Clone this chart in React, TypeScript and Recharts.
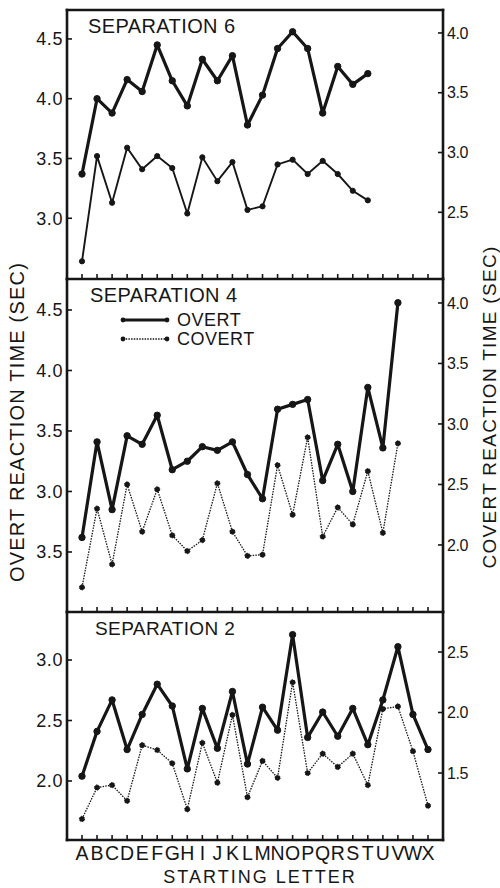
import React from 'react';
import { LineChart, Line, XAxis, YAxis, Legend } from 'recharts';

const letters = ['A','B','C','D','E','F','G','H','I','J','K','L','M','N','O','P','Q','R','S','T','U','V','W','X'];

// Separation 6 (A–T)
const sep6Overt = [3.37, 4.00, 3.88, 4.16, 4.06, 4.45, 4.15, 3.94, 4.33, 4.15, 4.36, 3.78, 4.03, 4.42, 4.56, 4.42, 3.88, 4.27, 4.12, 4.21];
const sep6Covert = [2.09, 2.97, 2.58, 3.04, 2.86, 2.97, 2.87, 2.49, 2.96, 2.76, 2.92, 2.52, 2.55, 2.90, 2.94, 2.82, 2.93, 2.82, 2.68, 2.60];
// Separation 4 (A–V)
const sep4Overt = [2.62, 3.41, 2.85, 3.46, 3.39, 3.63, 3.18, 3.25, 3.37, 3.34, 3.41, 3.14, 2.94, 3.68, 3.72, 3.76, 3.09, 3.39, 3.00, 3.86, 3.36, 4.56];
const sep4Covert = [1.65, 2.30, 1.84, 2.50, 2.11, 2.46, 2.08, 1.95, 2.04, 2.51, 2.11, 1.91, 1.92, 2.66, 2.25, 2.89, 2.07, 2.31, 2.17, 2.61, 2.10, 2.84];
// Separation 2 (A–X)
const sep2Overt = [2.04, 2.41, 2.67, 2.26, 2.55, 2.80, 2.62, 2.10, 2.60, 2.27, 2.74, 2.14, 2.61, 2.42, 3.21, 2.36, 2.57, 2.37, 2.60, 2.30, 2.67, 3.11, 2.55, 2.26];
const sep2Covert = [1.12, 1.38, 1.40, 1.27, 1.73, 1.69, 1.58, 1.20, 1.75, 1.42, 1.98, 1.30, 1.60, 1.46, 2.25, 1.50, 1.66, 1.55, 1.66, 1.40, 2.03, 2.05, 1.68, 1.23];

// Axis ticks and their printed labels (the original prints "3.5" at the 2.5 position of panel 2)
const p1LeftTicks = [3.0, 3.5, 4.0, 4.5];
const p1LeftLabels = ['3.0', '3.5', '4.0', '4.5'];
const p1RightTicks = [2.5, 3.0, 3.5, 4.0];
const p1RightLabels = ['2.5', '3.0', '3.5', '4.0'];
const p2LeftTicks = [2.5, 3.0, 3.5, 4.0, 4.5];
const p2LeftLabels = ['3.5', '3.0', '3.5', '4.0', '4.5'];
const p2RightTicks = [2.0, 2.5, 3.0, 3.5, 4.0];
const p2RightLabels = ['2.0', '2.5', '3.0', '3.5', '4.0'];
const p3LeftTicks = [2.0, 2.5, 3.0];
const p3LeftLabels = ['2.0', '2.5', '3.0'];
const p3RightTicks = [1.5, 2.0, 2.5];
const p3RightLabels = ['1.5', '2.0', '2.5'];

const seriesOrder = ['OVERT', 'COVERT'];

const INK = '#161616';
const FONT = '"Liberation Sans", Arial, sans-serif';
const W = 500;
const H = 888;

const build = (overt: number[], covert: number[]) =>
  letters.map((l, i) => ({
    letter: l,
    overt: i < overt.length ? overt[i] : null,
    covert: i < covert.length ? covert[i] : null,
  }));

const makeLeftTick = (labels: string[]) => (props: any) => {
  const { x, y, index } = props;
  return (
    <g>
      <line x1={x} x2={x + 5} y1={y} y2={y} stroke={INK} strokeWidth={1.6} />
      <text x={x - 4} y={y} dy="0.36em" textAnchor="end" fontSize={18} fontFamily={FONT} fill={INK} letterSpacing={0.6}>
        {labels[index]}
      </text>
    </g>
  );
};

const makeRightTick = (labels: string[]) => (props: any) => {
  const { x, y, index } = props;
  return (
    <g>
      <line x1={x} x2={x - 5} y1={y} y2={y} stroke={INK} strokeWidth={1.6} />
      <text x={x + 4} y={y} dy="0.36em" textAnchor="start" fontSize={16} fontFamily={FONT} fill={INK} letterSpacing={-0.4}>
        {labels[index]}
      </text>
    </g>
  );
};

const makeBottomTick = (showLetter: boolean) => (props: any) => {
  const { x, y, payload } = props;
  return (
    <g>
      <line x1={x} x2={x} y1={y} y2={y - 5} stroke={INK} strokeWidth={1.6} />
      {showLetter ? (
        <text x={x} y={y + 20} textAnchor="middle" fontSize={19.5} fontFamily={FONT} fill={INK}>
          {payload.value}
        </text>
      ) : null}
    </g>
  );
};

const renderLegend = (props: any) => {
  const payload = [...(props.payload || [])].sort(
    (a: any, b: any) => seriesOrder.indexOf(a.value) - seriesOrder.indexOf(b.value)
  );
  return (
    <svg width={220} height={46} style={{ display: 'block', overflow: 'visible' }}>
      {payload.map((entry: any, i: number) => {
        const y = 9 + i * 19;
        const isOvert = entry.value === 'OVERT';
        return (
          <g key={i}>
            <line x1={5} x2={49} y1={y} y2={y} stroke={INK} strokeWidth={isOvert ? 3 : 1.3} strokeDasharray={isOvert ? undefined : '1.5 1.2'} />
            <circle cx={5} cy={y} r={2.4} fill={INK} />
            <circle cx={49} cy={y} r={2.4} fill={INK} />
            <text x={59} y={y} dy="0.36em" fontSize={18} fontFamily={FONT} fill={INK} letterSpacing={0.5}>
              {entry.value}
            </text>
          </g>
        );
      })}
    </svg>
  );
};

type PanelProps = {
  data: any[];
  plotTop: number;
  plotBottom: number;
  leftDomain: [number, number];
  rightDomain: [number, number];
  leftTicks: number[];
  leftLabels: string[];
  rightTicks: number[];
  rightLabels: string[];
  covertDashed: boolean;
  topBorder?: boolean;
  letters?: boolean;
  legend?: boolean;
};

const Panel = (p: PanelProps) => {
  const xh = p.letters ? 30 : 1;
  const axisLine = { stroke: INK, strokeWidth: 2.6, strokeLinecap: 'square' as const };
  return (
    <div style={{ position: 'absolute', left: 0, top: 0 }}>
      <LineChart
        width={W}
        height={H}
        data={p.data}
        margin={{ top: p.plotTop, right: 0, left: 0, bottom: H - p.plotBottom - xh }}
      >
        <XAxis
          dataKey="letter"
          xAxisId="b"
          orientation="bottom"
          height={xh}
          padding={{ left: 15, right: 15 }}
          interval={0}
          tickSize={0}
          tickMargin={0}
          tickLine={false}
          axisLine={axisLine}
          tick={makeBottomTick(!!p.letters)}
        />
        {p.topBorder ? (
          <XAxis
            dataKey="letter"
            xAxisId="t"
            orientation="top"
            height={1}
            padding={{ left: 15, right: 15 }}
            tick={false}
            tickLine={false}
            axisLine={axisLine}
          />
        ) : null}
        <YAxis
          yAxisId="l"
          orientation="left"
          width={67}
          type="number"
          domain={p.leftDomain}
          allowDataOverflow
          ticks={p.leftTicks}
          interval={0}
          tickSize={0}
          tickMargin={0}
          tickLine={false}
          axisLine={axisLine}
          tick={makeLeftTick(p.leftLabels)}
        />
        <YAxis
          yAxisId="r"
          orientation="right"
          width={57}
          type="number"
          domain={p.rightDomain}
          allowDataOverflow
          ticks={p.rightTicks}
          interval={0}
          tickSize={0}
          tickMargin={0}
          tickLine={false}
          axisLine={axisLine}
          tick={makeRightTick(p.rightLabels)}
        />
        {p.legend ? (
          <Legend
            layout="vertical"
            align="center"
            verticalAlign="middle"
            content={renderLegend}
            wrapperStyle={{ position: 'absolute', left: 118, top: 311, width: 220, height: 46 }}
          />
        ) : null}
        <Line
          name="OVERT"
          dataKey="overt"
          xAxisId="b"
          yAxisId="l"
          stroke={INK}
          strokeWidth={3.2}
          strokeLinejoin="round"
          dot={{ r: 3.2, fill: INK, stroke: INK, strokeWidth: 1 }}
          activeDot={false}
          isAnimationActive={false}
          connectNulls={false}
        />
        <Line
          name="COVERT"
          dataKey="covert"
          xAxisId="b"
          yAxisId="r"
          stroke={INK}
          strokeWidth={p.covertDashed ? 1.3 : 1.9}
          strokeDasharray={p.covertDashed ? '1.5 1.2' : undefined}
          dot={{ r: 2.6, fill: INK, stroke: INK, strokeWidth: 1 }}
          activeDot={false}
          isAnimationActive={false}
          connectNulls={false}
        />
      </LineChart>
    </div>
  );
};

export default function App() {
  const textStyle = { fontFamily: FONT, fill: INK } as const;
  return (
    <div style={{ position: 'absolute', left: 0, top: 0, width: W, height: H, background: '#fff', overflow: 'hidden' }}>
      <Panel
        data={build(sep6Overt, sep6Covert)}
        plotTop={9}
        plotBottom={279}
        leftDomain={[2.492, 4.742]}
        rightDomain={[1.942, 4.192]}
        leftTicks={p1LeftTicks}
        leftLabels={p1LeftLabels}
        rightTicks={p1RightTicks}
        rightLabels={p1RightLabels}
        covertDashed={false}
        topBorder
      />
      <Panel
        data={build(sep4Overt, sep4Covert)}
        plotTop={279}
        plotBottom={612}
        leftDomain={[2.004, 4.756]}
        rightDomain={[1.446, 4.198]}
        leftTicks={p2LeftTicks}
        leftLabels={p2LeftLabels}
        rightTicks={p2RightTicks}
        rightLabels={p2RightLabels}
        covertDashed
        legend
      />
      <Panel
        data={build(sep2Overt, sep2Covert)}
        plotTop={612}
        plotBottom={840}
        leftDomain={[1.512, 3.397]}
        rightDomain={[0.946, 2.831]}
        leftTicks={p3LeftTicks}
        leftLabels={p3LeftLabels}
        rightTicks={p3RightTicks}
        rightLabels={p3RightLabels}
        covertDashed
        letters
      />
      <svg width={W} height={H} style={{ position: 'absolute', left: 0, top: 0, pointerEvents: 'none' }}>
        <text x={88} y={33} fontSize={20} letterSpacing={0.4} {...textStyle}>SEPARATION  6</text>
        <text x={90} y={302} fontSize={20} letterSpacing={0.4} {...textStyle}>SEPARATION  4</text>
        <text x={95} y={635} fontSize={19} letterSpacing={0.4} {...textStyle}>SEPARATION  2</text>
        <text
          transform="translate(17,422) rotate(-90)"
          textAnchor="middle"
          dominantBaseline="central"
          fontSize={20}
          letterSpacing={1.2}
          {...textStyle}
        >
          OVERT REACTION TIME (SEC)
        </text>
        <text
          transform="translate(489,407) rotate(-90)"
          textAnchor="middle"
          dominantBaseline="central"
          fontSize={19}
          letterSpacing={1.3}
          {...textStyle}
        >
          COVERT REACTION TIME (SEC)
        </text>
        <text x={260} y={883} textAnchor="middle" fontSize={18} letterSpacing={2} {...textStyle}>
          STARTING LETTER
        </text>
      </svg>
    </div>
  );
}
